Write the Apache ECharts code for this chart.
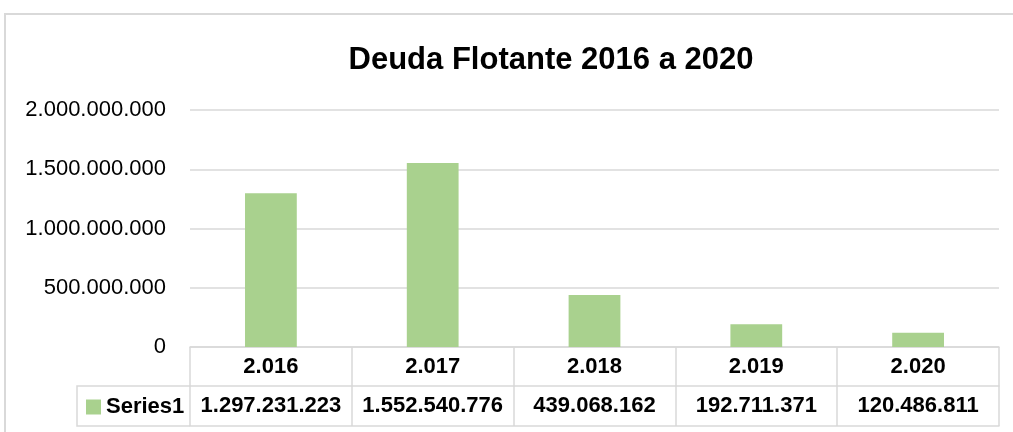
<!DOCTYPE html>
<html>
<head>
<meta charset="utf-8">
<script src="https://cdn.jsdelivr.net/npm/echarts@6/dist/echarts.min.js"></script>
<style>
  html, body { margin: 0; padding: 0; background: #fff; }
  #chart { width: 1013px; height: 432px; }
</style>
</head>
<body>
<div id="chart"></div>
<script>
const years = ['2.016', '2.017', '2.018', '2.019', '2.020']
const values = [1297231223, 1552540776, 439068162, 192711371, 120486811]
const yTicks = [0, 500000000, 1000000000, 1500000000, 2000000000]

const font = "'Liberation Sans Narrow', 'Arial Narrow', 'Liberation Sans', sans-serif"
const line = '#d9d9d9'
const green = '#a9d18e'

// 1234567 -> 1.234.567
const fmt = v => String(v).replace(/\B(?=(\d{3})+(?!\d))/g, '.')

const chart = echarts.init(document.getElementById('chart'))
chart.setOption({
  animation: false,
  title: {
    text: 'Deuda Flotante 2016 a 2020',
    left: 546,
    textAlign: 'center',
    top: 40,
    textStyle: { fontFamily: font, fontSize: 31, fontWeight: 'bold', color: '#000' }
  },
  legend: {
    left: 86,
    top: 396,
    padding: 0,
    itemWidth: 15,
    itemHeight: 15,
    itemGap: 0,
    icon: 'rect',
    textStyle: { fontFamily: font, fontSize: 22, fontWeight: 'bold', color: '#000', padding: [0, 0, 0, 0] },
    data: ['Series1']
  },
  grid: { left: 190, right: 14, top: 110, bottom: 85 },
  xAxis: [
    {
      type: 'category',
      data: years,
      axisLine: { lineStyle: { color: line, width: 1.5 } },
      axisTick: { show: true, length: 79, lineStyle: { color: line, width: 1.5 } },
      axisLabel: { interval: 0, margin: 20, verticalAlign: 'middle', fontFamily: font, fontSize: 22, fontWeight: 'bold', color: '#000' }
    },
    {
      type: 'category',
      position: 'bottom',
      offset: 39,
      data: values.map(fmt),
      axisLine: { lineStyle: { color: line, width: 1.5 } },
      axisTick: { show: false },
      axisLabel: { interval: 0, margin: 20, verticalAlign: 'middle', fontFamily: font, fontSize: 22, fontWeight: 'bold', color: '#000' }
    },
    {
      type: 'category',
      position: 'bottom',
      offset: 79,
      data: years,
      axisLine: { lineStyle: { color: line, width: 1.5 } },
      axisTick: { show: false },
      axisLabel: { show: false }
    }
  ],
  yAxis: {
    type: 'value',
    min: yTicks[0],
    max: yTicks[yTicks.length - 1],
    interval: yTicks[1] - yTicks[0],
    axisLine: { show: false },
    axisTick: { show: false },
    splitLine: { lineStyle: { color: line, width: 1.5 } },
    axisLabel: { margin: 24, fontFamily: font, fontSize: 22, color: '#000', formatter: fmt }
  },
  series: [{
    name: 'Series1',
    type: 'bar',
    data: values,
    barWidth: '32%',
    itemStyle: { color: green }
  }],
  graphic: [
    {
      type: 'rect',
      shape: { x: 5, y: 14, width: 1100, height: 600 },
      style: { fill: 'none', stroke: line, lineWidth: 2 },
      silent: true
    },
    {
      type: 'polyline',
      shape: { points: [[190, 386], [77, 386], [77, 426], [190, 426]] },
      style: { fill: 'none', stroke: line, lineWidth: 1.5 },
      silent: true
    }
  ]
})
</script>
</body>
</html>
